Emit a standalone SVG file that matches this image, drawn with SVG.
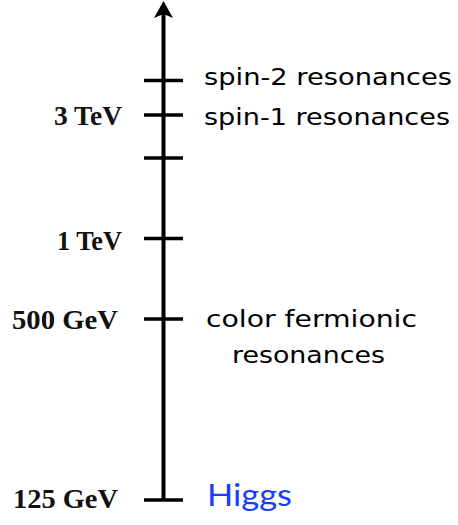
<svg xmlns="http://www.w3.org/2000/svg" width="458" height="525" viewBox="0 0 458 525">
<style>
.axis{stroke:#000;stroke-width:4;fill:none}
.tick{stroke:#000;stroke-width:3.5}
.lbl{font-family:"Liberation Serif","DejaVu Serif",serif;font-weight:bold;font-size:27px;fill:#111;text-anchor:end}
.note{font-family:"DejaVu Sans","Liberation Sans",sans-serif;font-size:23px;fill:#000}
.higgs{font-family:"Lato","Open Sans",sans-serif;font-size:30px;fill:#1a3cff}
</style>
<defs>
<marker id="arr" markerWidth="10" markerHeight="10" refX="5" refY="5" orient="auto" markerUnits="userSpaceOnUse" viewBox="0 0 10 10">
<path d="M0,0 L10,5 L0,10 L3,5 Z" fill="#000"/>
</marker>
</defs>
<g id="connectors">
<line class="axis" x1="163.5" y1="500" x2="163.5" y2="12"/>
<path d="M163.5,1 L173,18 L163.5,14 L154,18 Z" fill="#000"/>
</g>
<g id="tick-spin2">
<line class="tick" x1="144" y1="80.5" x2="183" y2="80.5"/>
<text class="note" x="204" y="85" textLength="248" lengthAdjust="spacingAndGlyphs">spin-2 resonances</text>
</g>
<g id="tick-3tev">
<line class="tick" x1="144" y1="115" x2="183" y2="115"/>
<text class="lbl" x="122" y="125" textLength="68" lengthAdjust="spacingAndGlyphs">3 TeV</text>
<text class="note" x="204" y="125" textLength="246" lengthAdjust="spacingAndGlyphs">spin-1 resonances</text>
</g>
<g id="tick-mid">
<line class="tick" x1="144" y1="158" x2="183" y2="158"/>
</g>
<g id="tick-1tev">
<line class="tick" x1="144" y1="238.5" x2="183" y2="238.5"/>
<text class="lbl" x="122" y="250" textLength="65" lengthAdjust="spacingAndGlyphs">1 TeV</text>
</g>
<g id="tick-500gev">
<line class="tick" x1="144" y1="319" x2="183" y2="319"/>
<text class="lbl" x="118" y="329" textLength="106" lengthAdjust="spacingAndGlyphs">500 GeV</text>
<text class="note" x="206" y="327" textLength="211" lengthAdjust="spacingAndGlyphs">color fermionic</text>
<text class="note" x="232" y="363" textLength="153" lengthAdjust="spacingAndGlyphs">resonances</text>
</g>
<g id="tick-125gev">
<line class="tick" x1="144" y1="500" x2="183" y2="500"/>
<text class="lbl" x="118" y="508" textLength="105" lengthAdjust="spacingAndGlyphs">125 GeV</text>
<text class="higgs" x="207" y="506" textLength="85" lengthAdjust="spacingAndGlyphs">Higgs</text>
</g>
</svg>
